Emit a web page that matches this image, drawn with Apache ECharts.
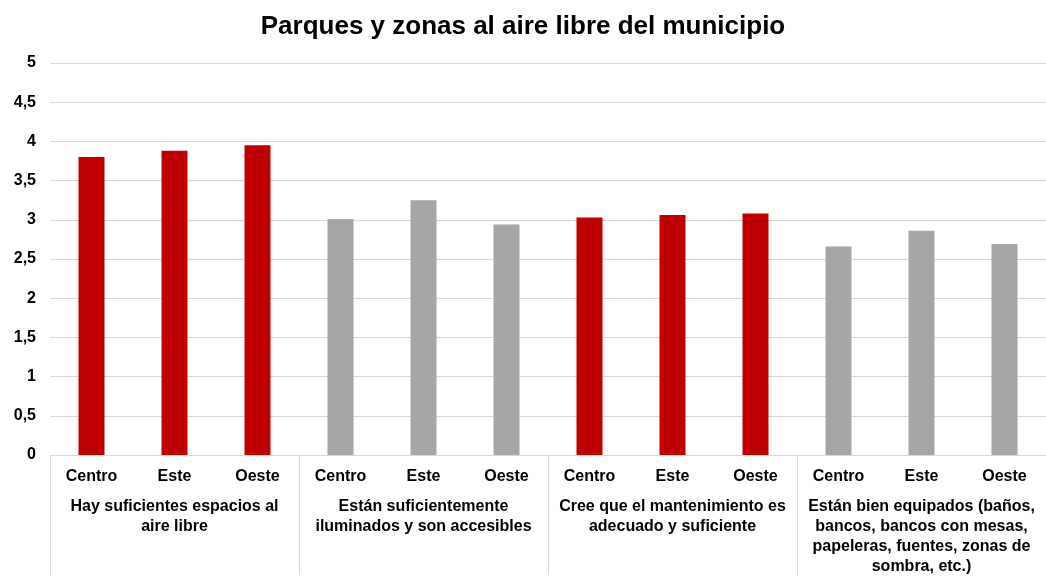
<!DOCTYPE html>
<html><head><meta charset="utf-8">
<script src="https://cdn.jsdelivr.net/npm/echarts@6/dist/echarts.min.js"></script>
<style>html,body{margin:0;padding:0;background:#fff}#c{width:1046px;height:577px}</style>
</head><body><div id="c"></div>
<script>
const title = 'Parques y zonas al aire libre del municipio';
const zones = ['Centro', 'Este', 'Oeste'];
const groups = [
  'Hay suficientes espacios al\naire libre',
  'Están suficientemente\niluminados y son accesibles',
  'Cree que el mantenimiento es\nadecuado y suficiente',
  'Están bien equipados (baños,\nbancos, bancos con mesas,\npapeleras, fuentes, zonas de\nsombra, etc.)'
];
const values = [3.80, 3.88, 3.95, 3.01, 3.25, 2.94, 3.03, 3.06, 3.08, 2.66, 2.86, 2.69];
const groupColors = ['#C00000', '#A6A6A6', '#C00000', '#A6A6A6'];

const cats = [];
groups.forEach(() => zones.forEach(z => cats.push(z)));
const font = 'Liberation Sans, Arial, sans-serif';
const chart = echarts.init(document.getElementById('c'));
chart.setOption({
  animation: false,
  title: { text: title, left: 'center', top: 9,
    textStyle: { fontFamily: font, fontSize: 26, fontWeight: 'bold', color: '#000' } },
  grid: { left: 50, right: 0, top: 63, bottom: 118 },
  xAxis: [
    { type: 'category', data: cats, position: 'bottom',
      axisLine: { show: true, lineStyle: { color: '#D9D9D9', width: 1 } },
      axisTick: { show: false },
      axisLabel: { interval: 0, margin: 14, fontFamily: font, fontSize: 16, fontWeight: 'bold', color: '#000' } },
    { type: 'category', data: groups, position: 'bottom',
      axisLine: { show: false },
      axisTick: { show: true, length: 120, lineStyle: { color: '#D9D9D9', width: 1 } },
      axisLabel: { interval: 0, margin: 42, lineHeight: 20, fontFamily: font, fontSize: 16, fontWeight: 'bold', color: '#000', align: 'center' } }
  ],
  yAxis: { type: 'value', min: 0, max: 5, interval: 0.5,
    axisLine: { show: false }, axisTick: { show: false },
    splitLine: { lineStyle: { color: '#D9D9D9', width: 1 } },
    axisLabel: { margin: 14, fontFamily: font, fontSize: 16, fontWeight: 'bold', color: '#000',
      formatter: v => String(v).replace('.', ',') } },
  series: [{
    type: 'bar', xAxisIndex: 0, barWidth: 26,
    data: values.map((v, i) => ({ value: v, itemStyle: { color: groupColors[Math.floor(i / 3)] } }))
  }]
});
</script></body></html>
